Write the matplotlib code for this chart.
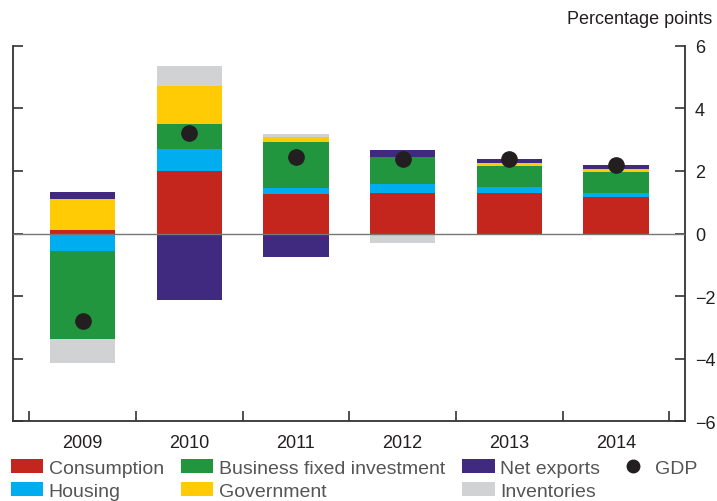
import numpy as np
import matplotlib
matplotlib.use("Agg")
from matplotlib import pyplot as plt
from matplotlib.patches import Patch
from matplotlib.lines import Line2D

plt.rcParams['font.family'] = ['Liberation Sans', 'DejaVu Sans']

years = ["2009", "2010", "2011", "2012", "2013", "2014"]
consumption = [0.10, 2.00, 1.25, 1.28, 1.28, 1.18]
housing = [-0.57, 0.70, 0.19, 0.29, 0.19, 0.10]
business_inv = [-2.80, 0.80, 1.48, 0.88, 0.70, 0.70]
government = [0.99, 1.22, 0.17, 0.00, 0.09, 0.09]
net_exports = [0.23, -2.12, -0.74, 0.23, 0.13, 0.13]
inventories = [-0.76, 0.64, 0.09, -0.31, 0.00, 0.00]
gdp = [-2.79, 3.22, 2.46, 2.38, 2.38, 2.20]

series = [
    ("Consumption", consumption, "#C4261D"),
    ("Housing", housing, "#00AEEF"),
    ("Business fixed investment", business_inv, "#21963F"),
    ("Government", government, "#FFCB05"),
    ("Net exports", net_exports, "#3F2A80"),
    ("Inventories", inventories, "#D1D2D4"),
]

fig = plt.figure(figsize=(7.17, 5.02), dpi=100)
ax = fig.add_axes([13.3 / 717, 1 - 422.3 / 502, 672 / 717, 375.6 / 502])

x = np.arange(len(years))
pos_bottom = np.zeros(len(years))
neg_bottom = np.zeros(len(years))
for name, vals, col in series:
    v = np.array(vals)
    bottoms = np.where(v >= 0, pos_bottom, neg_bottom)
    ax.bar(x, v, width=0.61, bottom=bottoms, color=col, linewidth=0, zorder=2)
    pos_bottom += np.where(v >= 0, v, 0)
    neg_bottom += np.where(v < 0, v, 0)

ax.axhline(0, color="#777777", linewidth=1.0, zorder=3)
ax.plot(x, gdp, "o", color="#231F20", markersize=11, zorder=4)

ax.set_xlim(-0.65, len(years) - 0.35)
ax.set_ylim(-6, 6)

# boundary ticks without labels, year labels at bar centres
ax.set_xticks(np.arange(len(years) + 1) - 0.5)
ax.set_xticklabels([])
ax.set_xticks(x, minor=True)
ax.set_xticklabels(years, minor=True)
ax.tick_params(axis="x", which="major", direction="in", length=7, width=1.2, color="#333333")
ax.tick_params(axis="x", which="minor", length=0, pad=9, labelsize=13, labelcolor="#231F20")

ax.set_yticks(np.arange(-6, 7, 2))
ax.yaxis.tick_right()
ax.tick_params(axis="y", which="major", direction="in", length=7, width=1.2, color="#333333",
               left=True, right=True, labelleft=False, labelright=True, pad=7,
               labelsize=13, labelcolor="#231F20")

ax.spines["top"].set_visible(False)
for s in ["left", "right", "bottom"]:
    ax.spines[s].set_color("#333333")
    ax.spines[s].set_linewidth(1.3)

fig.text(712 / 717, 1 - 20 / 502, "Percentage points", ha="right", va="center",
         fontsize=13, color="#231F20")

handles = [Patch(facecolor=c, edgecolor="none") for _, _, c in series]
labels = [n for n, _, _ in series]
handles.append(Line2D([], [], marker="o", linestyle="none", color="#231F20", markersize=9))
labels.append("GDP")
leg = fig.legend(handles, labels, ncol=4, loc="lower left",
                 bbox_to_anchor=(11 / 717, 0.002), frameon=False, fontsize=14,
                 handlelength=1.65, handleheight=0.7, handletextpad=0.28,
                 columnspacing=0.9, labelspacing=0.28, borderpad=0, borderaxespad=0)
for t in leg.get_texts():
    t.set_color("#555555")

fig.savefig("out.png", dpi=100)
